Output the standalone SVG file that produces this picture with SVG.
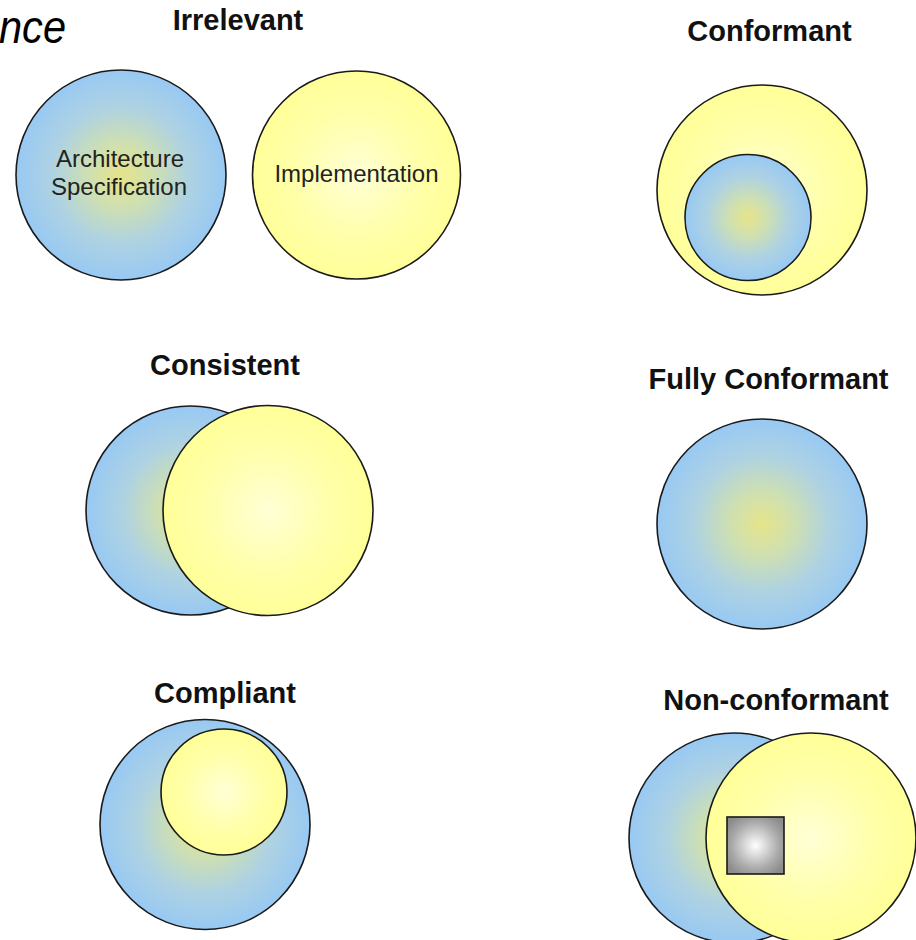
<svg xmlns="http://www.w3.org/2000/svg" width="916" height="940" viewBox="0 0 916 940">
<style>
.title{font-family:"Liberation Sans",Arial,sans-serif;font-weight:bold;font-size:29px;fill:#111;text-anchor:middle}
.lbl{font-family:"Liberation Sans",Arial,sans-serif;font-size:24px;fill:#222;text-anchor:middle}
.head{font-family:"Liberation Sans",Arial,sans-serif;font-style:italic;font-size:46px;fill:#000}
.spec{fill:url(#gBlue);stroke:#1a1a1a;stroke-width:1.6}
.impl{fill:url(#gYellow);stroke:#1a1a1a;stroke-width:1.6}
.sq{fill:url(#gGray);stroke:#1a1a1a;stroke-width:1.6}
</style>
<defs>
<radialGradient id="gBlue" cx="0.5" cy="0.5" r="0.5">
<stop offset="0" stop-color="#e6e48a"/>
<stop offset="0.3" stop-color="#cfe0b0"/>
<stop offset="0.65" stop-color="#aed2e2"/>
<stop offset="1" stop-color="#98c9f3"/>
</radialGradient>
<radialGradient id="gYellow" cx="0.5" cy="0.5" r="0.5">
<stop offset="0" stop-color="#ffffd6"/>
<stop offset="0.6" stop-color="#ffffaa"/>
<stop offset="1" stop-color="#ffff99"/>
</radialGradient>
<radialGradient id="gGray" cx="0.5" cy="0.5" r="0.6">
<stop offset="0" stop-color="#ffffff"/>
<stop offset="0.7" stop-color="#a8a8a8"/>
<stop offset="1" stop-color="#8c8c8c"/>
</radialGradient>
</defs>
<rect width="916" height="940" fill="#ffffff"/>
<text class="head" x="-1" y="43" textLength="67" lengthAdjust="spacingAndGlyphs">nce</text>

<g id="irrelevant">
<text class="title" x="238" y="30">Irrelevant</text>
<g id="irrelevant-spec">
<circle class="spec" cx="121" cy="175" r="105"/>
<text class="lbl" x="120" y="167">Architecture</text>
<text class="lbl" x="119" y="195">Specification</text>
</g>
<g id="irrelevant-impl">
<circle class="impl" cx="356.5" cy="175" r="104"/>
<text class="lbl" x="356.5" y="182">Implementation</text>
</g>
</g>

<g id="conformant">
<text class="title" x="769.5" y="41">Conformant</text>
<circle class="impl" cx="762" cy="190" r="105"/>
<circle class="spec" cx="748" cy="217.5" r="63"/>
</g>

<g id="consistent">
<text class="title" x="225" y="375">Consistent</text>
<circle class="spec" cx="190.5" cy="510.5" r="104.5"/>
<circle class="impl" cx="268" cy="510.5" r="105"/>
</g>

<g id="fully-conformant">
<text class="title" x="768.5" y="389">Fully Conformant</text>
<circle class="spec" cx="762" cy="524" r="105"/>
</g>

<g id="compliant">
<text class="title" x="225" y="703">Compliant</text>
<circle class="spec" cx="205" cy="824.5" r="105"/>
<circle class="impl" cx="224" cy="792" r="63"/>
</g>

<g id="non-conformant">
<text class="title" x="776" y="710">Non-conformant</text>
<circle class="spec" cx="734" cy="838" r="105"/>
<circle class="impl" cx="811" cy="838" r="105"/>
<rect class="sq" x="727" y="817" width="57" height="57"/>
</g>

<g id="connectors"/>
</svg>
